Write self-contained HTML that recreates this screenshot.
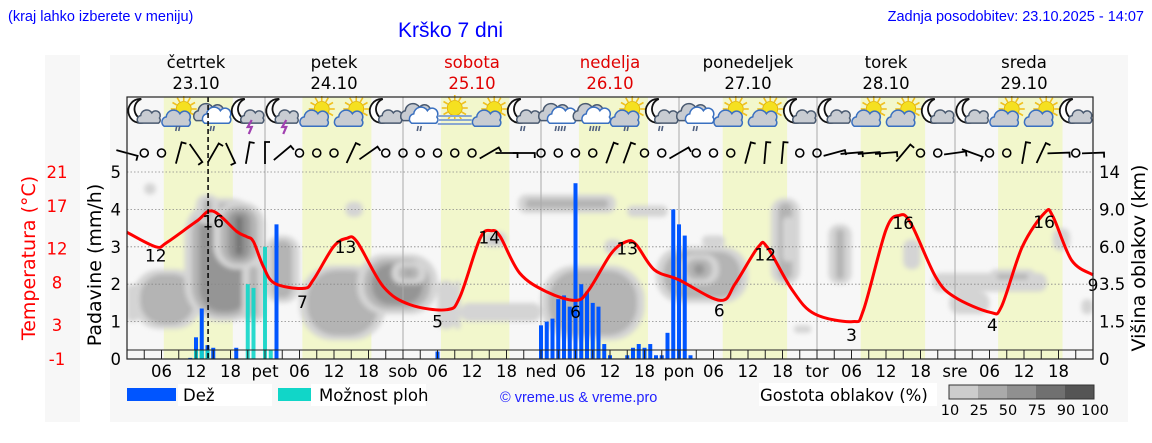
<!DOCTYPE html>
<html><head><meta charset="utf-8"><style>
html,body{margin:0;padding:0;background:#fff;}
svg{display:block;}
text{font-family:"DejaVu Sans","Liberation Sans",sans-serif;}
.hd{font-family:"Liberation Sans",sans-serif;}
</style></head><body>
<svg id="chart" width="1152" height="443" viewBox="0 0 1152 443">
<defs>
<filter id="blur" x="-30%" y="-30%" width="160%" height="160%"><feGaussianBlur stdDeviation="2.5"/></filter>
<clipPath id="plotclip"><rect x="127" y="97" width="966" height="262"/></clipPath>
</defs>
<rect x="45" y="55" width="35" height="367" fill="#f7f7f7"/>
<rect x="110" y="55" width="1018" height="367" fill="#f7f7f7"/>
<text class="hd" x="8" y="21" font-size="14.5" fill="#0000ff">(kraj lahko izberete v meniju)</text>
<text class="hd" x="398" y="37" font-size="21" fill="#0000ff">Krško 7 dni</text>
<text class="hd" x="1144" y="21" font-size="14.5" fill="#0000ff" text-anchor="end">Zadnja posodobitev: 23.10.2025 - 14:07</text>
<g id="bands"></g>
<g clip-path="url(#plotclip)"><g id="clouds" filter="url(#blur)"></g></g>
<g id="grid"></g>
<g id="bars"></g>
<g id="temp"></g>
<g id="icons"></g>
<g id="wind"></g>
<g id="axes"></g>
<g id="legend"></g>
</svg>
<script>
// ---- data ----
const dayNames = ["četrtek","petek","sobota","nedelja","ponedeljek","torek","sreda"];
const dayDates = ["23.10","24.10","25.10","26.10","27.10","28.10","29.10"];
const dayRed = [false,false,true,true,false,false,false];
const dayAbbr = ["","pet","sob","ned","pon","tor","sre"];
const hourTicks = ["06","12","18"];
const bandStart = [6.4,6.5,6.6,6.6,7.6,7.6,7.5];
const bandEnd = [18.4,18.5,18.5,18.6,18.8,18.8,18.7];
const precipTicks = [0,1,2,3,4,5];
const cloudTicks = ["0","1.5","3.5","6.0","9.0","14"];
const tempTicks = [-1,3,8,12,17,21];
const tempHours = [0,5,6.9,12.1,14.9,19.1,20.8,22,23.7,25.7,30.7,32.4,35.9,38.2,40,44.6,49.2,55.6,57.9,61.4,63.4,64.9,68.3,73,78,80.3,84.2,86.8,88.5,91.7,96,103.2,105.8,109.8,111.4,115.7,119.6,126.2,128.1,132,134.3,136.3,140.6,143.9,150.1,152.1,155.7,159.6,161,164.3,168];
const tempVals = [13.9,12.2,12.7,15.2,16.4,14,13.4,12.8,9.9,7.9,7.3,8.3,12.2,13.2,12.8,7.5,5.4,4.8,6.3,13.2,14.1,13.4,9.1,6.9,5.9,7.1,11.4,12.8,12.5,9.5,8.3,5.9,7.9,12.2,12.1,7.1,4.3,3.4,4.8,14.2,15.9,15,8.7,6.3,4.5,5.2,12.2,16.2,15.8,10.6,8.9];
const tempLabelHours = [5,15,30.5,38,54,63,78,87,103,111,126,135,150.5,159.5,168];
const tempLabelVals = ["12","16","7","13","5","14","6","13","6","12","3","16","4","16","9"];
const tempLabelT = [10.5,14.5,5,11.5,2.7,12.6,3.8,11.3,4,10.6,1.1,14.3,2.3,14.4,7];
const rainHours = [11,12,13,14,15,19,26,54,72,73,74,75,76,77,78,79,80,81,82,83,84,87,88,89,90,91,92,93,94,95,96,97,98];
const rainVals = [0.03,0.58,1.35,0.37,0.3,0.3,3.6,0.2,0.9,1.0,1.08,1.6,1.7,1.4,4.7,2.0,1.8,1.5,1.4,0.4,0.1,0.1,0.3,0.4,0.3,0.4,0.1,0.1,0.7,4.0,3.6,3.3,0.1];
const showerHours = [12,13,14,21,22,24,25];
const showerVals = [0.25,0.25,0.25,2.0,1.9,3.0,0.25];
// cloud blobs: hour from, hour to, level low, level high (axis units), density 1..5
const cloudH0 = [1,10,15,20,12,3,24,30,40,54,57,58,38,62,68,87,72,83,92,96,100,112,114,116,122,135,140,150,143,161,166,46,0];
const cloudH1 = [13,24,24,24,16,5,30,45,54,57,58,72,41,66,85,94,90,86,108,103,104,117,116,119,126,138,160,158,150,164,168,52,2];
const cloudL0 = [0.8,1.0,2.4,1.0,3.6,4.4,1.5,0.5,1.2,0.8,0.8,1.0,3.8,3.0,3.9,3.8,0.5,2.8,1.5,2.0,3.0,2.0,2.6,0.7,2.0,2.4,1.8,2.0,1.2,2.9,1.2,2.0,1.0];
const cloudL1 = [2.4,4.3,4.2,2.6,4.4,4.7,3.3,2.5,2.8,2.1,2.1,1.5,4.2,3.4,4.4,4.1,2.5,3.2,3.0,2.8,3.3,4.3,3.8,0.9,3.6,3.2,2.3,2.4,1.8,3.5,1.6,2.6,2.0];
const cloudD = [2,3,5,5,3,2,2,2,3,3,4,1,2,4,4,4,2,3,2,4,3,3,5,2,2,2,1,3,1,2,1,3,2];
const iconHours = [3,9,15,21,27,33,39,45,51,57,63,69,75,81,87,93,99,105,111,117,123,129,135,141,147,153,159,165];
const iconTypes = ["mc","scr","cr","ml","ml","sc","sc","mc","cr","fs","sc","mcr","crr","crr","scr","mcr","cr","sc","sc","mc","mc","sc","sc","mc","mc","sc","sc","mc"];
// wind: "o" calm, else shaft angle degrees
const windCodes = [-15,"o","o",75,-55,60,-65,80,90,40,"o","o","o",65,35,"o","o","o","o","o","o",30,0,0,"o","o","o","o",70,70,"o","o",30,"o","o","o",75,85,85,"o","o",15,5,5,5,50,"o","o",8,-20,"o","o",80,65,2,"o",2];

// ---- scales ----
const X0=127, X1=1093, YT=97, Y0=359;
const xH = h => X0 + (X1-X0)*h/168;
const yP = v => Y0 - v*37.4;
const yT = t => Y0 - (t+1)*8.5;
const NS="http://www.w3.org/2000/svg";
function mk(tag, parent, attrs){const e=document.createElementNS(NS,tag);for(const k in attrs)e.setAttribute(k,attrs[k]);parent.appendChild(e);return e;}
const G = id => document.getElementById(id);

// bands
for(let d=0; d<7; d++){
  const r=mk('rect',G('bands'),{x:xH(d*24+bandStart[d]),y:YT,width:xH(d*24+bandEnd[d])-xH(d*24+bandStart[d]),height:Y0-YT,fill:'#f2f7cc'});
  
  
}
// clouds
const shades=["#000","#d4d4d4","#b4b4b4","#959595","#757575","#555"];
for(let i=0;i<cloudH0.length;i++){
  for(let lv=1; lv<=cloudD[i]; lv++){
    const shrinkX=(lv-1)*1.3, shrinkY=(lv-1)*0.13;
    const w=cloudH1[i]-cloudH0[i]-2*shrinkX, hgt=cloudL1[i]-cloudL0[i]-2*shrinkY;
    if(w<=0.5||hgt<=0.05) break;
    const W=xH(w)-X0, H=hgt*37.4;
    const r=mk('rect',G('clouds'),{x:xH(cloudH0[i]+shrinkX),y:yP(cloudL1[i]-shrinkY),width:W,height:H,rx:Math.min(W,H)/2.2,fill:shades[lv]});
    
    
  }
}
// grid
for(let d=1; d<7; d++){ mk('line',G('grid'),{x1:xH(d*24),x2:xH(d*24),y1:YT,y2:Y0,stroke:'#aaa','stroke-width':1}); }
for(let i=1;i<precipTicks.length;i++){ mk('line',G('grid'),{x1:X0,x2:X1,y1:yP(precipTicks[i]),y2:yP(precipTicks[i]),stroke:'#888','stroke-width':0.8,'stroke-dasharray':'1.5,2'}); }
// bars
rainHours.forEach((h,i)=>{const r=mk('rect',G('bars'),{x:xH(h)-2,y:yP(rainVals[i]),width:4,height:rainVals[i]*37.4,fill:'#0055ff'});
  
  });
showerHours.forEach((h,i)=>{const r=mk('rect',G('bars'),{x:xH(h)-2,y:yP(showerVals[i]),width:4,height:showerVals[i]*37.4,fill:'#11d6c8','fill-opacity':0.9});
  
  });
// temperature (smooth catmull-rom)
const P=tempHours.map((h,i)=>[xH(h),yT(tempVals[i])]);
let d='M'+P[0][0].toFixed(1)+','+P[0][1].toFixed(1);
for(let i=0;i<P.length-1;i++){
  const p0=P[Math.max(0,i-1)],p1=P[i],p2=P[i+1],p3=P[Math.min(P.length-1,i+2)];
  const c1=[p1[0]+(p2[0]-p0[0])/6,p1[1]+(p2[1]-p0[1])/6];
  const c2=[p2[0]-(p3[0]-p1[0])/6,p2[1]-(p3[1]-p1[1])/6];
  d+=` C${c1[0].toFixed(1)},${c1[1].toFixed(1)} ${c2[0].toFixed(1)},${c2[1].toFixed(1)} ${p2[0].toFixed(1)},${p2[1].toFixed(1)}`;
}
const tl=mk('path',G('temp'),{d:d,fill:'none',stroke:'#ff0000','stroke-width':3,'stroke-linejoin':'round'});


tempLabelHours.forEach((h,i)=>{const t=mk('text',G('temp'),{x:xH(h),y:yT(tempLabelT[i]),'font-size':17,'text-anchor':'middle',fill:'#000'});t.textContent=tempLabelVals[i];
  
  });
// now line
mk('line',G('axes'),{x1:xH(14.1),x2:xH(14.1),y1:YT,y2:Y0,stroke:'#000','stroke-width':1.5,'stroke-dasharray':'5,3'});
// icons
function cloud(g,cx,cy,s,fill,stroke){
  mk('path',g,{d:`M${cx-12*s},${cy+6*s} a${5*s} ${5*s} 0 0 1 ${2*s},${-9*s} a${7*s} ${7*s} 0 0 1 ${13*s},${-3*s} a${5*s} ${5*s} 0 0 1 ${9*s},${6*s} a${4*s} ${4*s} 0 0 1 ${-1*s},${6*s} z`,fill:fill,stroke:stroke,'stroke-width':1.5});
}
function sun(g,cx,cy){
  for(let a=0;a<360;a+=30){const r=Math.PI*a/180;mk('line',g,{x1:cx+8*Math.cos(r),y1:cy+8*Math.sin(r),x2:cx+13*Math.cos(r),y2:cy+13*Math.sin(r),stroke:'#f0c020','stroke-width':1.6});}
  mk('circle',g,{cx:cx,cy:cy,r:7.5,fill:'#f5e020',stroke:'#e0b000','stroke-width':0.8});
}
function moon(g,cx,cy){
  mk('path',g,{d:`M${cx+2},${cy-13} a12 12 0 1 0 8,20 a10 10 0 0 1 -8,-20 z`,fill:'#fff',stroke:'#111','stroke-width':1.8});
}
iconHours.forEach((h,i)=>{
  const g=mk('g',G('icons'),{});
  
  
  const cx=xH(h), cy=112, t=iconTypes[i];
  if(t[0]==='m'){moon(g,cx-5,cy); cloud(g,cx+5,cy+6,0.85,'#c8ccd2','#4a5a70');}
  if(t==='sc'||t==='scr'){sun(g,cx+5,cy-3); cloud(g,cx-2,cy+8,1.05,'#c8ccd2','#3a70c0');}
  if(t==='cr'||t==='crr'){cloud(g,cx-4,cy+2,1.1,'#c8ccd2','#4a5a70'); cloud(g,cx+4,cy+5,1.05,'#fff','#3a70c0');}
  if(t==='fs'){sun(g,cx,cy-4); for(let k=0;k<3;k++) mk('line',g,{x1:cx-17,x2:cx+17,y1:cy+4+k*4,y2:cy+4+k*4,stroke:'#8aa8d0','stroke-width':2});}
  if(t==='ml'){mk('path',g,{d:`M${cx+4},${cy+8} l-4,7 h4 l-3,7`,fill:'none',stroke:'#a040b0','stroke-width':2.2});}
  if(t.endsWith('r')){const n=t.endsWith('rr')?4:2;for(let k=0;k<n;k++)mk('line',g,{x1:cx-2+k*3,y1:cy+14,x2:cx-3+k*3,y2:cy+19,stroke:'#506080','stroke-width':1.6});}
});
// wind
windCodes.forEach((c,i)=>{
  const x=xH(i*3), y=153;
  if(c==="o"){const e=mk('circle',G('wind'),{cx:x,cy:y,r:4,fill:'none',stroke:'#000','stroke-width':1.6});
    
    return;}
  const r=-Math.PI*c/180, L=11;
  const dx=L*Math.cos(r), dy=L*Math.sin(r);
  const e=mk('path',G('wind'),{d:`M${x-dx},${y-dy} L${x+dx},${y+dy} l${-5*Math.sin(r)},${5*Math.cos(r)}`,fill:'none',stroke:'#000','stroke-width':1.8});
  
  
});
// axes
const A=G('axes');
mk('rect',A,{x:X0,y:YT,width:X1-X0,height:Y0-YT,fill:'none',stroke:'#222','stroke-width':1.2});
mk('line',A,{x1:X0,x2:X1,y1:350,y2:350,stroke:'#222','stroke-width':1});
for(let h=3;h<168;h+=3) mk('line',A,{x1:xH(h),x2:xH(h),y1:350,y2:Y0,stroke:'#222','stroke-width':1});
for(let d=0; d<7; d++){
  const n=mk('text',A,{x:xH(d*24+12),y:68,'font-size':16.5,'text-anchor':'middle',fill:dayRed[d]?'#e00000':'#000'});n.textContent=dayNames[d];
  
  
  const dt=mk('text',A,{x:xH(d*24+12),y:89,'font-size':16.5,'text-anchor':'middle',fill:dayRed[d]?'#e00000':'#000'});dt.textContent=dayDates[d];
  
  
  if(dayAbbr[d]){const a=mk('text',A,{x:xH(d*24),y:377,'font-size':16.5,'text-anchor':'middle'});a.textContent=dayAbbr[d];
    
    }
  hourTicks.forEach((lab,k)=>{const t=mk('text',A,{x:xH(d*24+6*(k+1)),y:377,'font-size':16.5,'text-anchor':'middle'});t.textContent=lab;
    
    });
}
precipTicks.forEach((v,i)=>{
  const t=mk('text',A,{x:121,y:yP(v)+6,'font-size':16.5,'text-anchor':'end'});t.textContent=v;
  
  
  const r=mk('text',A,{x:1099,y:yP(v)+6,'font-size':16.5});r.textContent=cloudTicks[i];
  
  
  const tt=mk('text',A,{x:57,y:Y0-(tempTicks[i]+1)*8.5+6,'font-size':16.5,'text-anchor':'middle',fill:'#ff0000'});tt.textContent=tempTicks[i];
  
  
});
</script>
<script>
const S=document.getElementById('chart');
function tx(parent,attrs,txt,name){const e=document.createElementNS("http://www.w3.org/2000/svg",'text');for(const k in attrs)e.setAttribute(k,attrs[k]);e.textContent=txt;parent.appendChild(e);
  
  return e;}
tx(S,{x:0,y:0,transform:'translate(101,265) rotate(-90)','font-size':19,'text-anchor':'middle'},'Padavine (mm/h)','y-left-title');
tx(S,{x:0,y:0,transform:'translate(35,258) rotate(-90)','font-size':19,'text-anchor':'middle',fill:'#ff0000'},'Temperatura (°C)','temp-axis-title');
tx(S,{x:0,y:0,transform:'translate(1145,258) rotate(-90)','font-size':19,'text-anchor':'middle'},'Višina oblakov (km)','y-right-title');
const L=document.getElementById('legend');
function rc(a){const e=document.createElementNS("http://www.w3.org/2000/svg",'rect');for(const k in a)e.setAttribute(k,a[k]);L.appendChild(e);return e;}
rc({x:127,y:388,width:49,height:13,fill:'#0055ff'});
rc({x:178,y:384,width:94,height:22,fill:'#fff'});
tx(L,{x:183,y:401,'font-size':16.5},'Dež','legend-rain');
rc({x:278,y:388,width:33,height:13,fill:'#11d6c8'});
rc({x:311,y:384,width:115,height:22,fill:'#fff'});
tx(L,{x:319,y:401,'font-size':16.5},'Možnost ploh','legend-showers');
tx(L,{x:500,y:402,'font-size':14.5,fill:'#2020ff',class:'hd'},'© vreme.us & vreme.pro','copyright');
rc({x:759,y:383,width:178,height:23,fill:'#fff'});
tx(L,{x:760,y:401,'font-size':16.5},'Gostota oblakov (%)','legend-cloud-density');
const gs=['#cccccc','#aaaaaa','#909090','#707070','#555555'];
gs.forEach((c,i)=>rc({x:949+i*29,y:385,width:29,height:14,fill:c}));
rc({x:949,y:385,width:145,height:14,fill:'none',stroke:'#333','stroke-width':1});
['10','25','50','75','90','100'].forEach((l,i)=>tx(L,{x:950+i*29,y:415,'font-size':14.5,'text-anchor':'middle'},l,'legend-density-tick'));
</script>
</body></html>
